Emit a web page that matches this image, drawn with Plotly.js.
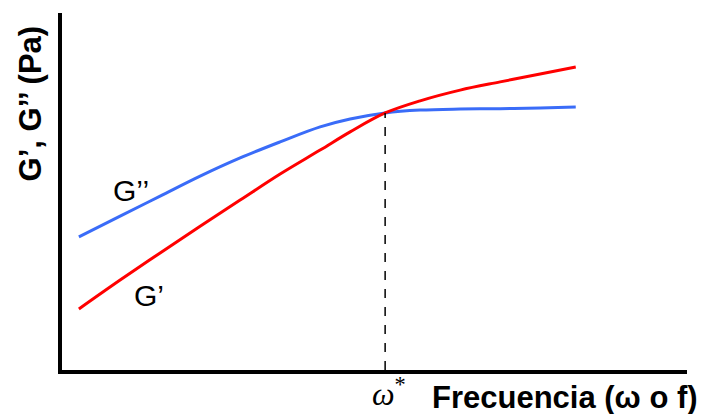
<!DOCTYPE html>
<html>
<head>
<meta charset="utf-8">
<script src="https://cdn.plot.ly/plotly-3.0.1.min.js"></script>
<style>html,body{margin:0;padding:0;background:#fff;}#chart{width:702px;height:414px;}</style>
</head>
<body>
<div id="chart"></div>
<script>
// Frequency (arbitrary units)
var freq = [0.27, 0.93, 1.57, 2.21, 2.85, 3.49, 4.13, 4.61, 5.17, 5.73, 6.37, 7.01, 7.65, 8.22];
// Storage modulus G'
var gPrime = [1.71, 2.52, 3.28, 4.03, 4.76, 5.49, 6.16, 6.67, 7.20, 7.54, 7.84, 8.07, 8.29, 8.49];
// Loss modulus G''
var gDouble = [3.73, 4.31, 4.87, 5.43, 5.94, 6.39, 6.81, 7.03, 7.20, 7.28, 7.31, 7.32, 7.34, 7.37];
var labelGPrime = "G’";
var labelGDouble = "G’’";
var xTitle = "Frecuencia (ω o f)";
var yTitle = "G’, G’’ (Pa)";
var crossLabel = "<i>ω</i><sup>*</sup>";

// crossover index: where the two series meet
var ci = 0, best = Infinity;
for (var i = 0; i < freq.length; i++) {
  var d = Math.abs(gPrime[i] - gDouble[i]);
  if (d < best) { best = d; ci = i; }
}
var crossX = freq[ci], crossY = gPrime[ci];

var traces = [
  {x: freq, y: gDouble, mode: 'lines', line: {color: '#3a6cf8', width: 3, shape: 'spline', smoothing: 1}, hoverinfo: 'skip'},
  {x: freq, y: gPrime, mode: 'lines', line: {color: '#ff0000', width: 3, shape: 'spline', smoothing: 1}, hoverinfo: 'skip'}
];

var layout = {
  width: 702, height: 414,
  margin: {l: 62, r: 15, t: 13, b: 44},
  paper_bgcolor: '#fff', plot_bgcolor: '#fff',
  showlegend: false,
  xaxis: {range: [0, 10], showline: true, linecolor: '#000', linewidth: 4, showgrid: false, zeroline: false, showticklabels: false, ticks: ''},
  yaxis: {range: [0, 10], showline: true, linecolor: '#000', linewidth: 4, showgrid: false, zeroline: false, showticklabels: false, ticks: ''},
  shapes: [
    {type: 'line', xref: 'x', yref: 'y', x0: crossX, x1: crossX, y0: 0, y1: crossY, line: {color: '#000', width: 1.5, dash: 'dash'}}
  ],
  annotations: [
    {xref: 'paper', yref: 'paper', x: 0.110, y: 0.504, xanchor: 'center', yanchor: 'middle', text: labelGDouble, showarrow: false, font: {family: 'Liberation Sans, Arial', size: 30, color: '#000'}},
    {xref: 'paper', yref: 'paper', x: 0.139, y: 0.210, xanchor: 'center', yanchor: 'middle', text: labelGPrime, showarrow: false, font: {family: 'Liberation Sans, Arial', size: 30, color: '#000'}},
    {xref: 'paper', yref: 'paper', x: 1.0208, xanchor: 'right', y: -0.078, yanchor: 'middle', text: '<b>' + xTitle + '</b>', showarrow: false, font: {family: 'Liberation Sans, Arial', size: 31, color: '#000'}},
    {xref: 'paper', yref: 'paper', x: -0.050, y: 0.746, xanchor: 'center', yanchor: 'middle', textangle: -90, text: '<b>' + yTitle + '</b>', showarrow: false, font: {family: 'Liberation Sans, Arial', size: 31, color: '#000'}},
    {xref: 'x', yref: 'paper', x: crossX, xshift: 4, y: -0.062, xanchor: 'center', yanchor: 'middle', text: crossLabel, showarrow: false, font: {family: 'Liberation Serif, Times New Roman', size: 32, color: '#000'}}
  ]
};

Plotly.newPlot('chart', traces, layout, {staticPlot: true, displayModeBar: false});
</script>
</body>
</html>
